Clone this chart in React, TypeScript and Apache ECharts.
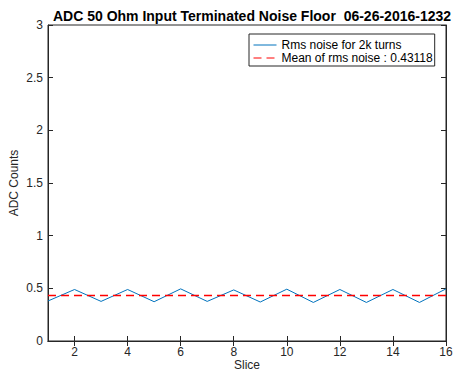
import React, { useEffect, useRef } from "react";
import * as echarts from "echarts";

const slices = [1, 2, 3, 4, 5, 6, 7, 8, 9, 10, 11, 12, 13, 14, 15, 16];
const rmsNoise = [0.38, 0.489, 0.376, 0.489, 0.373, 0.495, 0.376, 0.485, 0.37, 0.492, 0.366, 0.489, 0.366, 0.489, 0.366, 0.495];
const meanNoise = 0.43118;
const xTicks = [2, 4, 6, 8, 10, 12, 14, 16];
const yTicks = [0, 0.5, 1, 1.5, 2, 2.5, 3];
const titleText = "ADC 50 Ohm Input Terminated Noise Floor  06-26-2016-1232";
const seriesNames = ["Rms noise for 2k turns", "Mean of rms noise : 0.43118"];

const FONT = "'Liberation Sans', Arial, Helvetica, sans-serif";
const AX = "#262626";

export default function App() {
  const ref = useRef<HTMLDivElement>(null);
  useEffect(() => {
    if (!ref.current) return;
    const chart = echarts.init(ref.current, undefined, { renderer: "svg" });
    const rmsData = slices.map((s, i) => [s, rmsNoise[i]]);
    const meanData = [
      [slices[0], meanNoise],
      [slices[slices.length - 1], meanNoise],
    ];
    const tickStyle = { show: true, inside: true, length: 5, lineStyle: { color: AX, width: 1 } };
    chart.setOption({
      animation: false,
      backgroundColor: "#ffffff",
      textStyle: { fontFamily: FONT },
      title: {
        text: titleText,
        left: 247,
        textAlign: "center",
        top: 4,
        textStyle: { fontFamily: FONT, fontSize: 14, fontWeight: "bold", color: "#000" },
      },
      grid: {
        left: 48,
        right: 7,
        top: 25,
        bottom: 31,
        containLabel: false,
        outerBoundsMode: "none",
        show: true,
        borderColor: AX,
        borderWidth: 1,
        backgroundColor: "#fff",
      },
      legend: {
        orient: "vertical",
        left: 249,
        top: 34,
        padding: [5, 2, 2, 4],
        itemGap: 1,
        itemWidth: 23,
        itemHeight: 12,
        backgroundColor: "#fff",
        borderColor: AX,
        borderWidth: 1,
        borderRadius: 0,
        itemStyle: { opacity: 0 },
        lineStyle: { width: 1 },
        textStyle: { fontFamily: FONT, fontSize: 12, color: "#000" },
        data: seriesNames,
      },
      xAxis: [
        {
          type: "value",
          min: 1,
          max: 16,
          name: "Slice",
          nameLocation: "middle",
          nameGap: 18,
          nameMoveOverlap: false,
          nameTextStyle: { fontFamily: FONT, fontSize: 12, color: AX },
          axisLine: { show: true, lineStyle: { color: AX } },
          axisTick: { ...tickStyle, customValues: xTicks },
          axisLabel: { customValues: xTicks, margin: 5, fontFamily: FONT, fontSize: 12, color: AX },
          splitLine: { show: false },
        },
        {
          type: "value",
          position: "top",
          min: 1,
          max: 16,
          axisLine: { show: true, lineStyle: { color: AX } },
          axisTick: { ...tickStyle, customValues: xTicks },
          axisLabel: { show: false },
          splitLine: { show: false },
        },
      ],
      yAxis: [
        {
          type: "value",
          min: 0,
          max: 3,
          interval: 0.5,
          name: "ADC Counts",
          nameLocation: "middle",
          nameGap: 28,
          nameMoveOverlap: false,
          nameTextStyle: { fontFamily: FONT, fontSize: 12, color: AX },
          axisLine: { show: true, lineStyle: { color: AX } },
          axisTick: { ...tickStyle, customValues: yTicks },
          axisLabel: { customValues: yTicks, margin: 5, fontFamily: FONT, fontSize: 12, color: AX },
          splitLine: { show: false },
        },
        {
          type: "value",
          position: "right",
          min: 0,
          max: 3,
          interval: 0.5,
          axisLine: { show: true, lineStyle: { color: AX } },
          axisTick: { ...tickStyle, customValues: yTicks },
          axisLabel: { show: false },
          splitLine: { show: false },
        },
      ],
      series: [
        {
          name: seriesNames[0],
          type: "line",
          data: rmsData,
          symbol: "none",
          z: 3,
          lineStyle: { color: "#0072BD", width: 1 },
          itemStyle: { color: "#0072BD" },
        },
        {
          name: seriesNames[1],
          type: "line",
          data: meanData,
          symbol: "none",
          z: 4,
          lineStyle: { color: "#FF0000", width: 1.5, type: [8, 5] },
          itemStyle: { color: "#FF0000" },
        },
      ],
    });
    return () => chart.dispose();
  }, []);
  return (
    <div
      ref={ref}
      style={{ position: "fixed", left: 0, top: 0, width: 453, height: 372 }}
    />
  );
}
